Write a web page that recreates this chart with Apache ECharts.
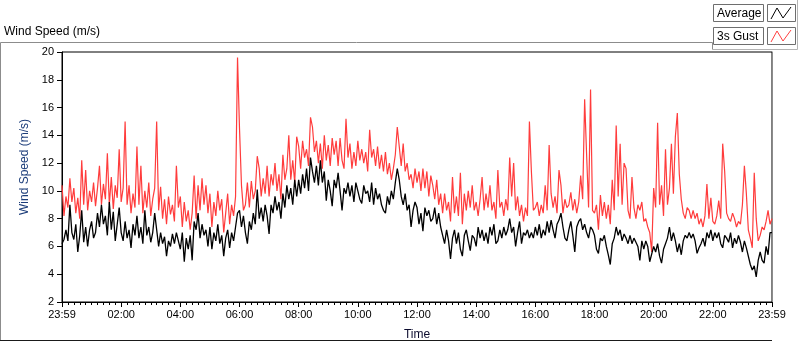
<!DOCTYPE html>
<html>
<head>
<meta charset="utf-8">
<script src="https://cdn.jsdelivr.net/npm/echarts@6/dist/echarts.min.js"></script>
<style>
  html, body { margin: 0; padding: 0; background: #fff; }
  #main { width: 800px; height: 342px; }
</style>
</head>
<body>
<div id="main"></div>
<script>
'use strict'

// one sample every 4 minutes, 23:59 -> 23:59
const stepMin = 4;
const timeLabels = ['23:59', '02:00', '04:00', '06:00', '08:00', '10:00', '12:00',
  '14:00', '16:00', '18:00', '20:00', '22:00', '23:59'];

// 3s gust (m/s), one row = 2 hours
const gustSpeed = [
  10.4, 8.2, 9.6, 8.8, 10.9, 9.2, 10.2, 8.4, 9.5, 8.0, 12.2, 9.0, 11.5, 8.6, 10.0, 9.2, 10.6, 8.9, 10.2, 11.8, 9.0, 10.5, 9.4, 12.7, 9.0, 11.0, 8.7, 10.4, 9.5, 13.0,
  9.2, 10.2, 15.0, 9.0, 10.4, 8.4, 9.8, 8.8, 13.2, 9.0, 11.8, 8.4, 10.0, 8.8, 10.6, 8.2, 9.4, 10.2, 15.0, 8.6, 10.3, 8.0, 9.4, 7.6, 9.6, 8.3, 9.0, 7.8, 11.8, 8.8,
  9.6, 7.4, 9.2, 7.8, 8.6, 7.2, 8.4, 11.1, 8.0, 10.4, 8.6, 10.9, 9.0, 10.4, 8.4, 9.8, 7.4, 9.2, 8.2, 10.0, 8.6, 9.4, 7.0, 8.4, 9.8, 7.6, 9.0, 8.2, 9.6, 19.6,
  14.5, 10.4, 8.6, 9.0, 10.6, 8.8, 10.7, 9.4, 10.0, 12.5, 11.6, 9.6, 10.9, 9.8, 11.8, 9.6, 11.2, 10.4, 12.0, 10.0, 11.2, 9.4, 12.6, 10.8, 11.6, 14.0, 10.8, 12.2, 10.6, 13.9,
  13.2, 11.6, 13.6, 12.4, 13.0, 11.8, 15.3, 14.6, 12.8, 13.6, 12.0, 13.4, 11.6, 14.0, 12.2, 13.3, 11.8, 13.8, 12.6, 13.6, 11.8, 13.8, 12.2, 11.6, 15.2, 12.4, 13.4, 11.6, 12.8, 11.8,
  13.6, 12.2, 13.0, 12.0, 12.8, 11.4, 14.4, 12.4, 13.0, 11.8, 13.2, 11.6, 12.6, 11.4, 12.8, 11.2, 12.0, 10.8, 11.6, 12.6, 14.6, 13.2, 11.8, 13.4, 11.4, 12.0, 10.8, 11.2, 10.2, 11.6,
  10.6, 11.4, 10.0, 11.6, 10.2, 11.4, 9.6, 11.1, 10.4, 9.4, 10.8, 9.0, 9.8, 8.4, 9.8, 8.6, 9.2, 7.8, 11.0, 8.4, 9.6, 8.2, 11.3, 7.6, 9.8, 8.6, 10.0, 8.8, 10.4, 8.6,
  9.2, 8.2, 9.4, 11.0, 8.6, 9.8, 8.8, 10.4, 8.6, 9.2, 8.0, 11.5, 8.8, 9.2, 8.2, 9.4, 8.6, 12.4, 9.6, 12.0, 8.6, 9.6, 8.2, 9.0, 7.8, 8.8, 8.2, 15.0, 11.4, 8.6,
  8.8, 9.2, 8.2, 9.0, 8.4, 10.4, 8.6, 13.3, 9.8, 8.8, 9.6, 8.4, 11.5, 10.4, 8.4, 9.4, 8.8, 9.0, 9.9, 8.6, 9.4, 8.4, 9.2, 11.1, 9.4, 16.6, 12.6, 8.8, 17.3, 8.6,
  8.4, 9.0, 7.2, 9.7, 8.2, 9.2, 8.0, 9.0, 7.6, 10.8, 8.6, 14.7, 9.6, 13.4, 9.0, 12.0, 11.6, 8.6, 8.0, 11.0, 8.8, 8.0, 9.0, 8.6, 9.2, 7.8, 8.0, 7.4, 7.0, 5.6,
  10.2, 8.8, 14.9, 9.0, 10.4, 8.2, 13.0, 9.0, 10.2, 13.4, 9.8, 13.9, 15.6, 11.2, 9.4, 8.4, 8.0, 8.8, 8.6, 8.0, 8.6, 8.0, 8.4, 7.6, 8.0, 7.4, 8.2, 10.5, 8.0, 9.5,
  7.8, 7.6, 8.2, 9.3, 8.0, 13.4, 11.4, 8.4, 8.0, 7.8, 8.4, 8.0, 7.4, 7.8, 7.6, 9.0, 11.8, 9.8, 7.2, 6.6, 5.9, 11.3, 8.0, 6.4, 6.8, 7.4, 7.2, 7.8, 8.6, 7.6,
  8.0
];

// average (m/s), one row = 2 hours
const avgSpeed = [
  6.2, 6.5, 7.2, 6.4, 9.0, 7.0, 6.5, 7.6, 5.6, 6.8, 8.6, 6.3, 7.4, 6.0, 7.2, 7.8, 6.6, 7.0, 8.4, 7.4, 9.0, 7.6, 8.2, 6.8, 9.2, 7.2, 8.5, 6.4, 7.6, 8.8,
  7.0, 6.4, 7.8, 6.6, 7.2, 5.9, 7.6, 6.8, 8.2, 6.6, 7.4, 6.2, 8.6, 6.8, 7.4, 6.3, 7.0, 8.4, 7.2, 6.0, 7.0, 6.2, 6.7, 5.3, 6.4, 6.0, 6.9, 6.2, 7.0, 6.4,
  5.8, 7.0, 4.9, 6.6, 5.8, 6.8, 5.0, 7.8, 7.2, 8.4, 6.6, 7.6, 6.8, 7.2, 6.0, 7.4, 5.8, 7.0, 6.4, 7.6, 6.2, 6.8, 5.3, 6.6, 7.2, 5.9, 7.0, 6.4, 7.4, 8.4,
  8.6, 7.4, 8.2, 7.0, 6.2, 7.8, 7.2, 8.4, 7.6, 10.1, 8.0, 8.8, 7.8, 9.0, 8.2, 6.9, 9.0, 8.4, 9.6, 8.6, 9.2, 8.0, 9.8, 8.8, 10.4, 9.4, 10.2, 9.0, 10.8, 9.6,
  10.8, 9.8, 11.2, 10.2, 11.6, 10.0, 12.4, 11.4, 10.6, 11.8, 10.4, 12.2, 10.6, 11.4, 9.3, 10.8, 10.0, 8.9, 10.8, 10.2, 11.3, 10.0, 8.6, 10.2, 9.8, 10.6, 9.6, 10.4, 9.2, 10.6,
  10.0, 9.4, 9.1, 10.4, 9.8, 10.0, 9.2, 10.6, 9.0, 10.2, 9.4, 9.8, 9.0, 8.6, 8.4, 9.6, 9.0, 10.0, 9.4, 10.6, 11.6, 10.8, 9.6, 9.0, 9.8, 8.6, 9.0, 7.4, 8.6, 9.2,
  8.8, 7.6, 8.4, 7.1, 8.8, 8.2, 8.6, 7.8, 8.0, 8.8, 7.6, 8.4, 7.4, 6.8, 6.2, 7.2, 6.4, 5.1, 6.6, 7.2, 6.2, 7.0, 5.8, 5.3, 6.8, 7.2, 6.4, 5.7, 6.8, 6.6,
  6.0, 7.4, 6.6, 7.2, 6.4, 7.0, 6.2, 7.4, 6.8, 7.6, 6.2, 6.4, 7.2, 6.6, 7.4, 6.8, 7.2, 8.0, 7.0, 7.4, 6.0, 7.0, 7.8, 6.2, 7.0, 6.8, 7.2, 6.6, 7.0, 6.6,
  7.4, 6.8, 7.6, 6.6, 7.2, 6.8, 7.8, 7.0, 7.9, 7.2, 6.6, 7.6, 7.9, 8.4, 7.4, 6.6, 6.4, 7.2, 7.8, 6.8, 5.6, 7.4, 7.8, 8.0, 7.2, 7.6, 7.0, 6.6, 7.4, 7.2,
  6.8, 5.8, 5.5, 6.6, 6.4, 6.8, 6.0, 5.4, 4.7, 6.2, 6.6, 7.4, 6.8, 7.2, 6.4, 6.9, 6.6, 6.2, 6.8, 6.2, 6.6, 6.3, 6.0, 5.0, 6.4, 5.8, 6.4, 6.0, 4.9, 4.8,
  6.0, 5.6, 6.2, 5.3, 4.8, 5.8, 6.2, 6.6, 7.4, 6.4, 7.0, 6.4, 5.6, 6.2, 5.4, 6.4, 6.8, 6.6, 7.0, 6.6, 6.9, 6.4, 5.5, 5.9, 6.2, 6.6, 6.0, 7.0, 6.6, 7.2,
  6.4, 7.0, 6.6, 7.0, 6.2, 5.9, 6.8, 6.6, 6.3, 7.0, 5.9, 6.6, 6.2, 6.8, 6.3, 5.6, 6.4, 5.9, 6.0, 4.7, 4.3, 4.6, 3.8, 5.0, 5.6, 5.0, 4.8, 6.0, 5.4, 7.0,
  7.0
];

const fontName = 'Liberation Sans';

var myChart = echarts.init(document.getElementById('main'), null, { renderer: 'canvas' });

// legend entry: caption box + small zigzag swatch
function legendRow(top, text, color) {
  return [
    { type: 'rect', shape: { x: 713.5, y: top + 0.5, width: 50, height: 17 },
      style: { fill: '#fff', stroke: '#6e6e6e', lineWidth: 1 } },
    { type: 'text', x: 717, y: top + 9.5,
      style: { text: text, fill: '#000', font: '12px ' + fontName, verticalAlign: 'middle' } },
    { type: 'rect', shape: { x: 767.5, y: top + 0.5, width: 28, height: 17 },
      style: { fill: '#fff', stroke: '#6e6e6e', lineWidth: 1 } },
    { type: 'polyline', shape: { points: [[771, top + 15], [777, top + 4], [783, top + 14], [791, top + 3]] },
      style: { stroke: color, lineWidth: 1, fill: null } }
  ];
}

var option = {
  animation: false,
  backgroundColor: '#fff',
  textStyle: { fontFamily: fontName },
  grid: {
    left: 62, right: 28, top: 52, bottom: 40,
    containLabel: false,
    outerBoundsMode: 'none',
    show: true, borderColor: '#000', borderWidth: 1, backgroundColor: '#fff'
  },
  xAxis: {
    type: 'value',
    min: 0, max: 1440, interval: 120,
    name: 'Time', nameLocation: 'middle', nameGap: 27,
    nameTextStyle: { fontSize: 12, color: '#0b0b2e' },
    axisLine: { show: true, lineStyle: { color: '#000', width: 1 } },
    axisTick: { show: true, length: 5, lineStyle: { color: '#000' } },
    minorTick: { show: true, splitNumber: 10, length: 3, lineStyle: { color: '#000' } },
    splitLine: { show: false },
    axisLabel: {
      fontSize: 11, color: '#000', margin: 7,
      formatter: function (v) { return timeLabels[Math.round(v / 120)]; }
    }
  },
  yAxis: [{
    type: 'value',
    min: 2, max: 20, interval: 2,
    name: 'Wind Speed (m/s)', nameLocation: 'middle', nameGap: 28, nameRotate: 90,
    nameTextStyle: { fontSize: 12, color: '#1c3d7a', padding: [0, 0, 0, 20] },
    axisLine: { show: true, lineStyle: { color: '#000', width: 1 } },
    axisTick: { show: true, length: 5, lineStyle: { color: '#000' } },
    splitLine: { show: false },
    axisLabel: { fontSize: 11, color: '#000', margin: 8 }
  }, {
    // grey right edge of the plot
    type: 'value', position: 'right',
    min: 2, max: 20, interval: 2,
    axisLine: { show: true, lineStyle: { color: '#8c8c8c', width: 1 } },
    axisTick: { show: false }, axisLabel: { show: false }, splitLine: { show: false }
  }],
  series: [{
    name: '3s Gust',
    type: 'line',
    data: gustSpeed.map((v, i) => [i * stepMin, v]),
    showSymbol: false, symbol: 'none',
    lineStyle: { color: '#ff3c3c', width: 1.2 },
    itemStyle: { color: '#ff3c3c' }
  }, {
    name: 'Average',
    type: 'line',
    data: avgSpeed.map((v, i) => [i * stepMin, v]),
    showSymbol: false, symbol: 'none',
    lineStyle: { color: '#000', width: 1.3 },
    itemStyle: { color: '#000' }
  }],
  graphic: [
    { type: 'text', x: 4, y: 32,
      style: { text: 'Wind Speed (m/s)', fill: '#000', font: '12px ' + fontName, verticalAlign: 'middle' } },
    { type: 'polyline', shape: { points: [[712.5, 49.5], [712.5, 42.5], [0.5, 42.5], [0.5, 340.5]] },
      style: { stroke: '#8c8c8c', lineWidth: 1, fill: null } },
    { type: 'polyline', shape: { points: [[712.5, 49.5], [797.5, 49.5], [797.5, 0]] },
      style: { stroke: '#b4b4b4', lineWidth: 1, fill: null } },
    { type: 'line', shape: { x1: 0, y1: 340.5, x2: 772, y2: 340.5 },
      style: { stroke: '#1a1a1a', lineWidth: 1 } }
  ].concat(legendRow(4, 'Average', '#000'), legendRow(27, '3s Gust', '#ff4040'))
};

myChart.setOption(option);
</script>
</body>
</html>
